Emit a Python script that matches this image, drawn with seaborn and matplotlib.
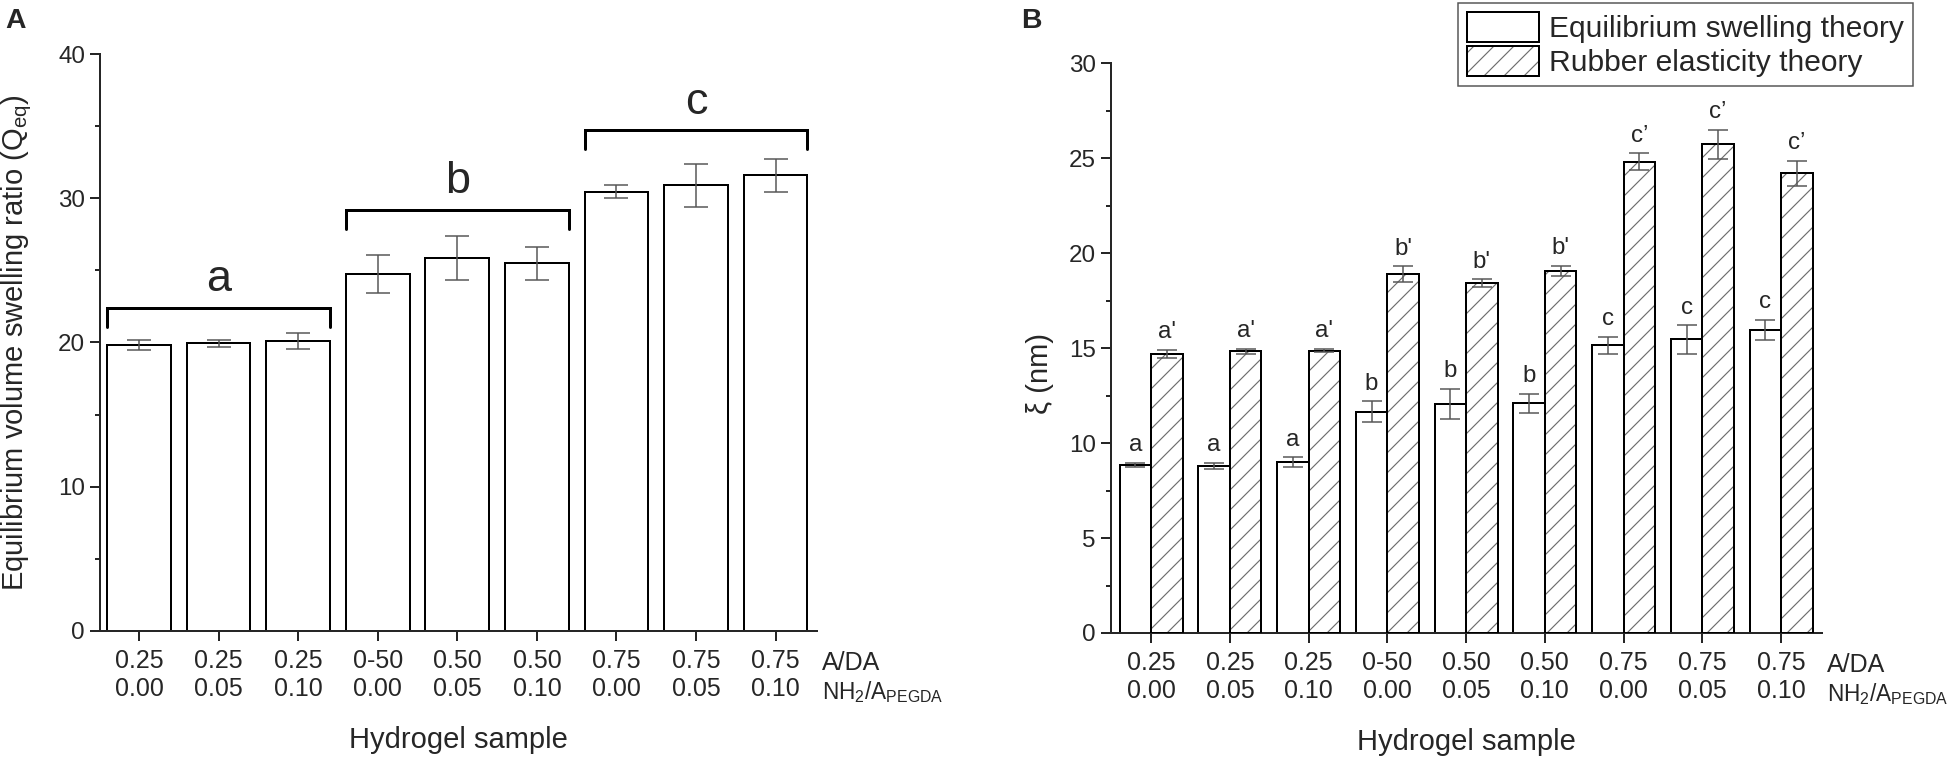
import numpy as np
import pandas as pd
import matplotlib
matplotlib.use("Agg")
import matplotlib.pyplot as plt
import seaborn as sns
from matplotlib.ticker import MultipleLocator
from matplotlib.patches import Patch, Rectangle
from matplotlib.legend_handler import HandlerTuple

# data
ada = ["0.25", "0.25", "0.25", "0-50", "0.50", "0.50", "0.75", "0.75", "0.75"]
nh2 = ["0.00", "0.05", "0.10", "0.00", "0.05", "0.10", "0.00", "0.05", "0.10"]

q_eq = [19.85, 19.95, 20.1, 24.75, 25.85, 25.5, 30.45, 30.9, 31.6]
q_err = [0.35, 0.25, 0.55, 1.35, 1.5, 1.15, 0.45, 1.5, 1.15]
group_letters = ["a", "b", "c"]
bracket_y = [22.4, 29.2, 34.7]

xi_swell = [8.85, 8.8, 9.0, 11.65, 12.05, 12.1, 15.15, 15.45, 15.95]
xi_swell_err = [0.1, 0.17, 0.25, 0.55, 0.8, 0.5, 0.45, 0.75, 0.55]
xi_rubber = [14.7, 14.82, 14.86, 18.9, 18.42, 19.05, 24.8, 25.72, 24.2]
xi_rubber_err = [0.2, 0.12, 0.08, 0.4, 0.2, 0.27, 0.45, 0.75, 0.65]
swell_letters = ["a", "a", "a", "b", "b", "b", "c", "c", "c"]
rubber_letters = ["a'", "a'", "a'", "b'", "b'", "b'", "c’", "c’", "c’"]
theories = ["Equilibrium swelling theory", "Rubber elasticity theory"]

samples = [f"{a}\n{n}" for a, n in zip(ada, nh2)]

sns.set_style("ticks")
plt.rcParams["font.family"] = ["Liberation Sans", "DejaVu Sans"]
plt.rcParams["mathtext.fontset"] = "custom"
plt.rcParams["mathtext.rm"] = "Liberation Sans"
plt.rcParams["mathtext.it"] = "Liberation Sans:italic"
plt.rcParams["hatch.linewidth"] = 0.7
plt.rcParams["axes.linewidth"] = 1.2

DPI = 120
fig = plt.figure(figsize=(1950 / DPI, 761 / DPI), dpi=DPI)
axA = fig.add_axes([0.05128, 0.17083, 0.36769, 0.75821])
axB = fig.add_axes([0.56974, 0.16820, 0.36462, 0.74901])

err_kw = dict(fmt="none", ecolor="#555555", elinewidth=0.9, capthick=0.9, zorder=5)


def style_axis(ax, ymax, major, minor, xmin):
    ax.set_ylim(0, ymax)
    ax.set_xlim(xmin, 8.52)
    ax.yaxis.set_major_locator(MultipleLocator(major))
    ax.yaxis.set_minor_locator(MultipleLocator(minor))
    ax.tick_params(axis="y", which="major", length=6, width=1.2, labelsize=14.5, pad=3)
    ax.tick_params(axis="y", which="minor", length=3, width=1.2)
    ax.tick_params(axis="x", which="major", length=6, width=1.2, labelsize=15, pad=5)
    for s in ["top", "right"]:
        ax.spines[s].set_visible(False)
    for s in ["left", "bottom"]:
        ax.spines[s].set_linewidth(1.2)
    ax.set_xlabel("Hydrogel sample", fontsize=17.5, labelpad=15)
    ax.annotate("A/DA", xy=(1, 0), xycoords="axes fraction", xytext=(3, -23.4),
                textcoords="offset points", ha="left", va="baseline", fontsize=15)
    ax.annotate(r"NH$_2$/A$_{\mathrm{PEGDA}}$", xy=(1, 0), xycoords="axes fraction",
                xytext=(3, -41), textcoords="offset points", ha="left",
                va="baseline", fontsize=13.6)


# ---------- panel A ----------
dfA = pd.DataFrame({"sample": samples, "Q": q_eq})
sns.barplot(data=dfA, x="sample", y="Q", color="white", saturation=1,
            edgecolor="black", linewidth=1.2, width=0.8, errorbar=None, ax=axA)
posA = np.arange(len(samples))
axA.errorbar(posA, q_eq, yerr=q_err, capsize=7, **err_kw)
style_axis(axA, 40, 10, 5, -0.49)
axA.set_ylabel(r"Equilibrium volume swelling ratio (Q$_{\mathrm{eq}}$)", fontsize=17.5)
axA.yaxis.set_label_coords(-0.092, 0.5)

for g, (lab, yb) in enumerate(zip(group_letters, bracket_y)):
    x0, x1 = posA[3 * g] - 0.4, posA[3 * g + 2] + 0.4
    axA.plot([x0, x0, x1, x1], [yb - 1.3, yb, yb, yb - 1.3], color="black", lw=1.8,
             solid_joinstyle="miter", clip_on=False)
    axA.text((x0 + x1) / 2, yb + 1.15, lab, ha="center", va="baseline", fontsize=27)

# ---------- panel B ----------
dfB = pd.DataFrame({
    "sample": samples * 2,
    "xi": xi_swell + xi_rubber,
    "theory": [theories[0]] * len(samples) + [theories[1]] * len(samples),
})
sns.barplot(data=dfB, x="sample", y="xi", hue="theory", hue_order=theories,
            palette=["white", "white"], saturation=1, edgecolor="black",
            linewidth=1.2, width=0.8, errorbar=None, legend=False, ax=axB)

cont_swell, cont_rubber = axB.containers[0], axB.containers[1]
for p in cont_rubber:
    p.set_hatch("//")
    p.set_edgecolor("#6e6e6e")
    p.set_linewidth(0)
    axB.add_patch(Rectangle((p.get_x(), p.get_y()), p.get_width(), p.get_height(),
                            fill=False, edgecolor="black", linewidth=1.2, zorder=3))

for cont, vals, errs, labs in [(cont_swell, xi_swell, xi_swell_err, swell_letters),
                               (cont_rubber, xi_rubber, xi_rubber_err, rubber_letters)]:
    xs = [p.get_x() + p.get_width() / 2 for p in cont]
    axB.errorbar(xs, vals, yerr=errs, capsize=6, **err_kw)
    for x, v, e, lab in zip(xs, vals, errs, labs):
        axB.annotate(lab, xy=(x, v + e), xytext=(0, 7), textcoords="offset points",
                     ha="center", va="baseline", fontsize=14.5)

style_axis(axB, 30, 5, 2.5, -0.51)
axB.set_ylabel("ξ (nm)", fontsize=17.5)
axB.yaxis.set_label_coords(-0.080, 0.456)

h_swell = (Patch(facecolor="white", edgecolor="black", linewidth=1.2),)
h_rub = (Patch(facecolor="white", edgecolor="#6e6e6e", linewidth=0, hatch="//"),
         Patch(facecolor="none", edgecolor="black", linewidth=1.2))
leg = fig.legend([h_swell, h_rub], theories, loc="upper right",
                 bbox_to_anchor=(1913 / 1950, 1 - 3 / 761), borderaxespad=0,
                 fontsize=18, handler_map={tuple: HandlerTuple(ndivide=1, pad=0)},
                 handlelength=2.4, handleheight=1.15, handletextpad=0.35,
                 labelspacing=0.1, borderpad=0.3, fancybox=False, framealpha=1)
leg.get_frame().set_edgecolor("#555555")
leg.get_frame().set_linewidth(0.9)

fig.text(5 / 1950, 1 - 28 / 761, "A", fontsize=17, fontweight="bold", va="baseline")
fig.text(1021 / 1950, 1 - 28 / 761, "B", fontsize=17, fontweight="bold", va="baseline")

fig.savefig("out.png", dpi=DPI)
